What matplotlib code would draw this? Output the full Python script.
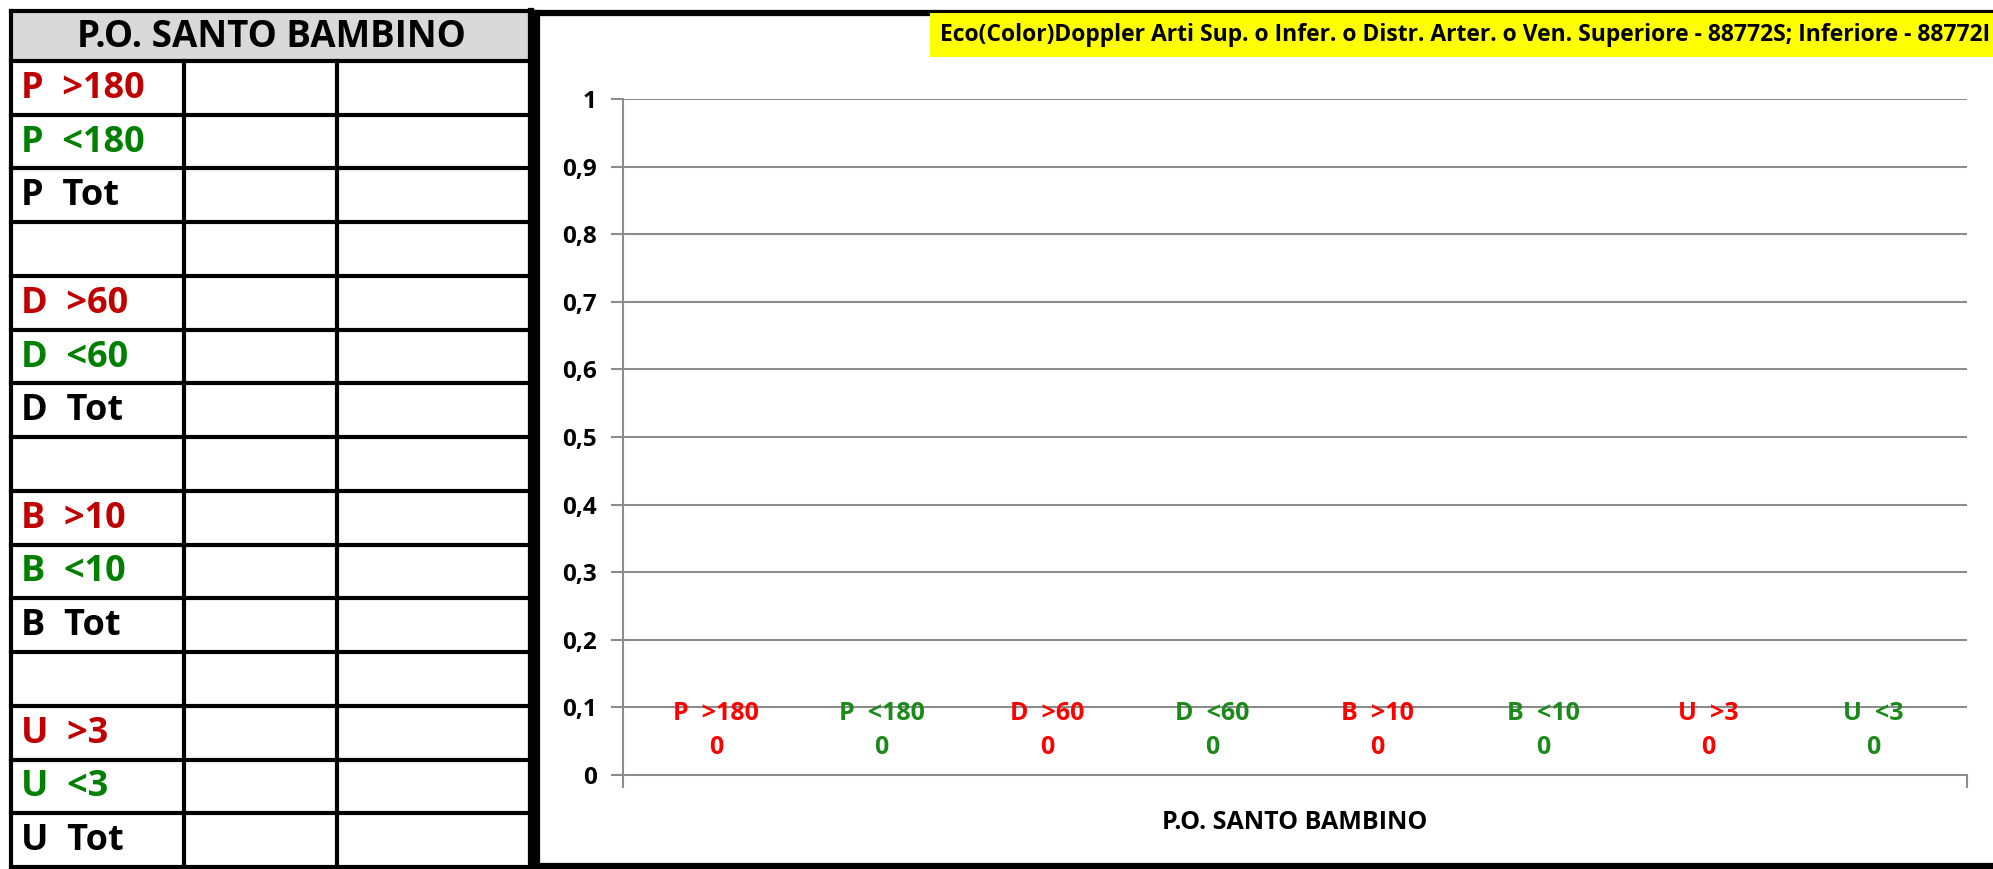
import matplotlib
matplotlib.use("Agg")
import matplotlib.pyplot as plt
from matplotlib.lines import Line2D
from matplotlib.patches import Rectangle
from matplotlib.ticker import FuncFormatter, MultipleLocator

# ---------------- data ----------------
categories = ["P.O. SANTO BAMBINO"]
series_names = ["P  >180", "P  <180", "D  >60", "D  <60", "B  >10", "B  <10", "U  >3", "U  <3"]
series_values = [0, 0, 0, 0, 0, 0, 0, 0]
series_colors = ["#FF0000", "#1B8A1B", "#FF0000", "#1B8A1B", "#FF0000", "#1B8A1B", "#FF0000", "#1B8A1B"]

table_title = "P.O. SANTO BAMBINO"
table_rows = ["P  >180", "P  <180", "P  Tot", "",
              "D  >60", "D  <60", "D  Tot", "",
              "B  >10", "B  <10", "B  Tot", "",
              "U  >3", "U  <3", "U  Tot"]
table_row_colors = ["#C00000", "#008000", "#000000", "#000000",
                    "#C00000", "#008000", "#000000", "#000000",
                    "#C00000", "#008000", "#000000", "#000000",
                    "#C00000", "#008000", "#000000"]

chart_title = "Eco(Color)Doppler Arti Sup. o Infer. o Distr. Arter. o Ven. Superiore - 88772S; Inferiore - 88772I"
y_max = 1.0
y_step = 0.1

FONT = ["Open Sans", "DejaVu Sans"]
NARROW = ["Liberation Sans Narrow", "Open Sans", "DejaVu Sans"]

W, H = 1993, 869
fig = plt.figure(figsize=(W / 100, H / 100), dpi=100)
fig.patch.set_facecolor("white")

# ---------------- overlay (pixel coordinates) for table and frame ----------------
ov = fig.add_axes([0, 0, 1, 1], zorder=0)
ov.set_xlim(0, W)
ov.set_ylim(H, 0)
ov.axis("off")

tx0, tx1 = 11, 531
cols = [184, 337]
ty0, thead = 11, 61
ty1 = 867
nrows = len(table_rows)
rh = (ty1 - thead) / nrows

ov.add_patch(Rectangle((tx0, ty0), tx1 - tx0, thead - ty0, facecolor="#D9D9D9", edgecolor="none"))
ov.text((tx0 + tx1) / 2, (ty0 + thead) / 2 + 1, table_title, ha="center", va="center",
        fontsize=26.5, fontweight="bold", family=FONT, color="black")

# horizontal lines
ov.add_line(Line2D([tx0, tx1], [ty0, ty0], color="black", lw=3))
for i in range(nrows + 1):
    y = thead + i * rh
    ov.add_line(Line2D([tx0, tx1], [y, y], color="black", lw=3))
# vertical lines
ov.add_line(Line2D([tx0, tx0], [ty0, ty1], color="black", lw=3))
ov.add_line(Line2D([tx1, tx1], [ty0, ty1], color="black", lw=4.5))
for c in cols:
    ov.add_line(Line2D([c, c], [thead, ty1], color="black", lw=3))

for i, (lab, col) in enumerate(zip(table_rows, table_row_colors)):
    if lab:
        ov.text(tx0 + 10, thead + (i + 0.5) * rh + 1, lab, ha="left", va="center",
                fontsize=26, fontweight="bold", family=FONT, color=col)

# chart frame
fx0, fy0, fy1 = 537, 13, 866
ov.add_line(Line2D([fx0, W], [fy0, fy0], color="black", lw=4.5))
ov.add_line(Line2D([fx0, W], [fy1, fy1], color="black", lw=4.5))
ov.add_line(Line2D([fx0, fx0], [fy0, fy1], color="black", lw=4.5))

# ---------------- chart ----------------
left, right = 623 / W, 1967 / W
bottom, top = 1 - 775 / H, 1 - 99 / H
ax = fig.add_axes([left, bottom, right - left, top - bottom], zorder=1)
ax.set_facecolor("none")

n = len(series_names)
bw = 0.123
xs = [(i - (n - 1) / 2) * bw for i in range(n)]
ax.bar(xs, series_values, width=bw * 0.9, color=series_colors)

for x, name, v, c in zip(xs, series_names, series_values, series_colors):
    ax.annotate(name, (x, v), xytext=(0, 44), textcoords="offset points",
                ha="center", va="center", fontsize=18, fontweight="bold",
                family=FONT, color=c)
    ax.annotate(f"{v}", (x, v), xytext=(0, 20), textcoords="offset points",
                ha="center", va="center", fontsize=18, fontweight="bold",
                family=FONT, color=c)

ax.set_xlim(-0.5, 0.5)
ax.set_ylim(0, y_max)
ax.yaxis.set_major_locator(MultipleLocator(y_step))
ax.yaxis.set_major_formatter(FuncFormatter(lambda v, p: ("%g" % round(v, 1)).replace(".", ",")))
ax.grid(axis="y", color="#8C8C8C", lw=1.5)
ax.set_axisbelow(True)

ax.set_xticks([-0.5, 0.5])
ax.set_xticklabels(["", ""])
ax.tick_params(axis="x", length=9, width=1.5, color="#8C8C8C", direction="out")
ax.tick_params(axis="y", length=9, width=1.5, color="#8C8C8C", direction="out", pad=10)
for lab in ax.get_yticklabels():
    lab.set_fontsize(17.5)
    lab.set_fontweight("bold")
    lab.set_family(FONT)

for s in ["top", "right"]:
    ax.spines[s].set_visible(False)
ax.spines["left"].set_color("#8C8C8C")
ax.spines["left"].set_linewidth(1.5)
ax.spines["bottom"].set_color("#8C8C8C")
ax.spines["bottom"].set_linewidth(1.5)

ax.text(0, -0.07, categories[0], transform=ax.get_xaxis_transform(), ha="center", va="center",
        fontsize=18, fontweight="bold", family=FONT, color="black")

# chart title with yellow highlight
fig.text(0.9985, 1 - 35 / H, chart_title, ha="right", va="center", fontsize=16.5,
         fontweight="bold", family=NARROW, color="black",
         bbox=dict(facecolor="#FFFF00", edgecolor="none", pad=7))

fig.savefig("out.png", dpi=100)
